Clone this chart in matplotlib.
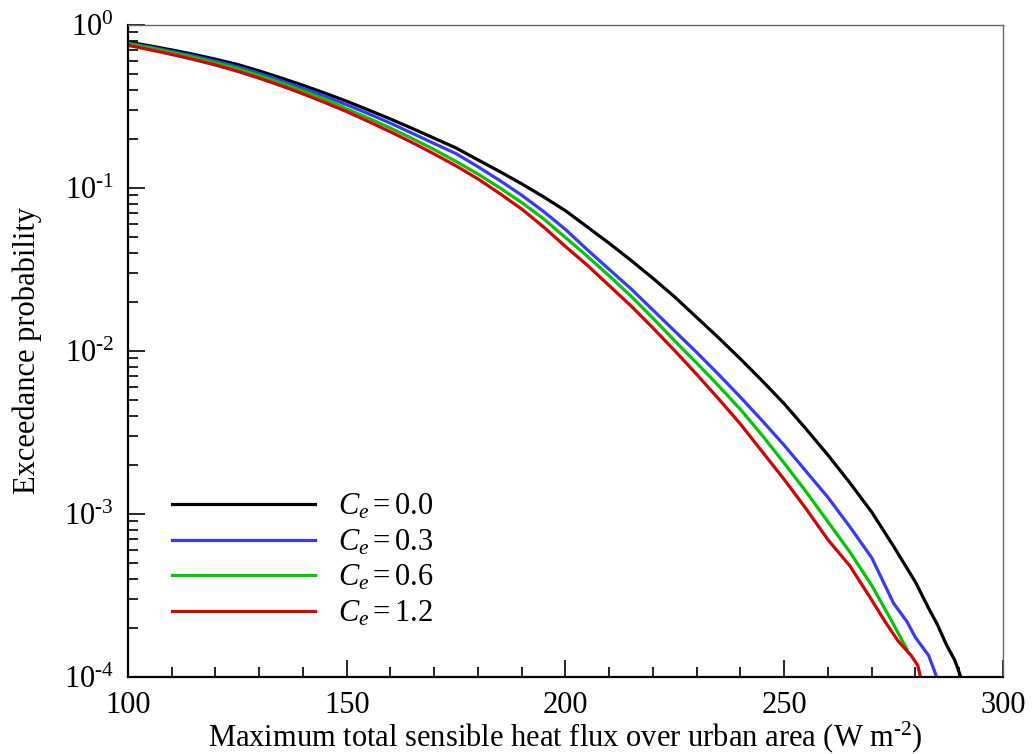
import numpy as np
import matplotlib
matplotlib.use("Agg")
import matplotlib.pyplot as plt
from matplotlib.ticker import LogLocator, MultipleLocator, FuncFormatter, NullFormatter

plt.rcParams['font.family'] = ['Liberation Serif', 'DejaVu Serif']
plt.rcParams['mathtext.fontset'] = 'custom'
plt.rcParams['mathtext.rm'] = 'Liberation Serif'
plt.rcParams['mathtext.it'] = 'Liberation Serif:italic'
plt.rcParams['mathtext.bf'] = 'Liberation Serif:bold'
plt.rcParams['axes.unicode_minus'] = False

# ---- data (x in W m-2, y as log10 of exceedance probability) ----
grid = [100, 105, 110, 115, 120, 125, 130, 135, 140, 145, 150, 155, 160, 165,
        170, 175, 180, 185, 190, 195, 200, 205, 210, 215, 220, 225, 230, 235,
        240, 245, 250, 255, 260, 265, 270, 275]

x_c00 = grid + [280, 283, 285, 287, 289, 290.6]
log_c00 = [-0.104, -0.128, -0.153, -0.180, -0.210, -0.242, -0.282, -0.325, -0.370,
           -0.418, -0.468, -0.522, -0.577, -0.635, -0.695, -0.755, -0.828, -0.900,
           -0.975, -1.055, -1.140, -1.240, -1.340, -1.445, -1.555, -1.670, -1.795,
           -1.920, -2.050, -2.185, -2.325, -2.480, -2.640, -2.810, -2.990, -3.200,
           -3.420, -3.580, -3.680, -3.800, -3.900, -4.020]

x_c03 = grid + [278, 280, 283, 285.1]
log_c03 = [-0.110, -0.135, -0.162, -0.190, -0.222, -0.256, -0.297, -0.342, -0.389,
           -0.438, -0.490, -0.545, -0.603, -0.665, -0.728, -0.790, -0.870, -0.955,
           -1.045, -1.145, -1.255, -1.380, -1.500, -1.620, -1.750, -1.880, -2.010,
           -2.145, -2.285, -2.430, -2.580, -2.740, -2.900, -3.080, -3.270, -3.550,
           -3.660, -3.760, -3.870, -4.020]

x_c06 = grid + [278]
log_c06 = [-0.115, -0.141, -0.169, -0.199, -0.232, -0.268, -0.310, -0.356, -0.405,
           -0.456, -0.515, -0.572, -0.633, -0.697, -0.765, -0.838, -0.915, -1.000,
           -1.090, -1.190, -1.305, -1.420, -1.540, -1.665, -1.800, -1.940, -2.075,
           -2.215, -2.360, -2.520, -2.690, -2.865, -3.050, -3.235, -3.440, -3.680,
           -3.830]

x_c12 = grid[:-2] + [270, 273, 276, 279, 280.5, 281.3]
log_c12 = [-0.125, -0.152, -0.181, -0.212, -0.246, -0.284, -0.327, -0.373, -0.423,
           -0.476, -0.532, -0.593, -0.656, -0.722, -0.792, -0.865, -0.945, -1.035,
           -1.130, -1.240, -1.360, -1.475, -1.600, -1.725, -1.860, -2.000, -2.145,
           -2.295, -2.450, -2.620, -2.790, -2.970, -3.160, -3.320, -3.530, -3.660,
           -3.780, -3.870, -3.930, -4.020]

labels = [r'$C_e = 0.0$', r'$C_e = 0.3$', r'$C_e = 0.6$', r'$C_e = 1.2$']
colors = ['#000000', '#3838ff', '#00c800', '#d80000']
series = [(x_c00, log_c00), (x_c03, log_c03), (x_c06, log_c06), (x_c12, log_c12)]

fig = plt.figure(figsize=(10.34, 7.54), dpi=100)
ax = fig.add_axes([128/1034, 1-676.7/754, (1003-128)/1034, (676.7-25)/754])

for (xs, ls), lab, col in zip(series, labels, colors):
    ax.plot(xs, 10.0**np.array(ls), color=col, lw=2.3, label=lab, solid_joinstyle='miter')

ax.set_yscale('log')
ax.set_xlim(100, 300)
ax.set_ylim(1e-4, 1)

def log_fmt(v, pos):
    e = int(round(np.log10(v)))
    if e < 0:
        return r'$\mathdefault{10^{\text{-}%d}}$' % (-e)
    return r'$\mathdefault{10^{%d}}$' % e

ax.xaxis.set_major_locator(MultipleLocator(50))
ax.xaxis.set_minor_locator(MultipleLocator(10))
ax.yaxis.set_major_locator(LogLocator(base=10, numticks=10))
ax.yaxis.set_minor_locator(LogLocator(base=10, subs=np.arange(2, 10), numticks=20))
ax.yaxis.set_major_formatter(FuncFormatter(log_fmt))
ax.yaxis.set_minor_formatter(NullFormatter())

ax.tick_params(which='both', direction='in', top=False, right=False, labelsize=22,
               width=1.2, color='black')
ax.tick_params(which='major', length=12, pad=10)
ax.tick_params(which='minor', length=7)

for s in ['left', 'bottom']:
    ax.spines[s].set_linewidth(1.6)
    ax.spines[s].set_color('black')
for s in ['top', 'right']:
    ax.spines[s].set_linewidth(1.0)
    ax.spines[s].set_color('#666666')

ax.set_xlabel(r'Maximum total sensible heat flux over urban area (W m$^{\text{-}2}$)',
              fontsize=22, labelpad=0)
ax.set_ylabel('Exceedance probability', fontsize=22)
ax.yaxis.set_label_coords(-0.098, 0.5)

leg = ax.legend(loc='upper left', bbox_to_anchor=(0.0363, 0.302), frameon=False, fontsize=22,
                handlelength=4.67, handletextpad=0.75, labelspacing=0.2, borderaxespad=0)

fig.savefig('out.png', dpi=100)
